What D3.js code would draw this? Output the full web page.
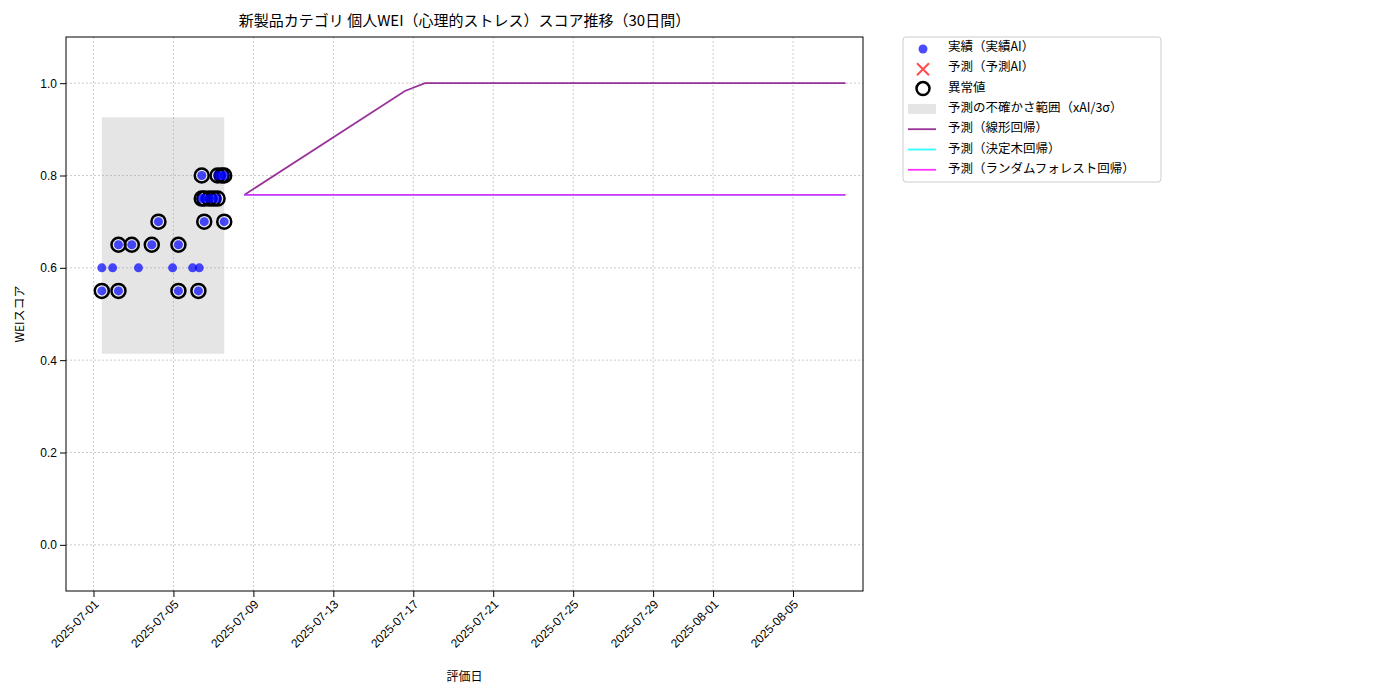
<!DOCTYPE html>
<html><head><meta charset="utf-8">
<script src="https://cdn.jsdelivr.net/npm/d3@7"></script>
<style>body{margin:0;background:#fff;font-family:"Noto Sans CJK JP","Noto Sans",sans-serif}</style>
</head><body><svg id="c" width="1400" height="700"></svg>
<script>
// actual scores (date, value, anomaly?)
const actualDates = ["2025-07-01T10","2025-07-01T10","2025-07-01T23","2025-07-02T06","2025-07-02T06","2025-07-02T22","2025-07-03T06","2025-07-03T22","2025-07-04T06","2025-07-04T23","2025-07-05T06","2025-07-05T06","2025-07-05T23","2025-07-06T06","2025-07-06T07","2025-07-06T10","2025-07-06T10","2025-07-06T13","2025-07-06T13","2025-07-06T19","2025-07-07T00","2025-07-07T05","2025-07-07T05","2025-07-07T10","2025-07-07T13","2025-07-07T13"];
const actualValues = [0.60,0.55,0.60,0.65,0.55,0.65,0.60,0.65,0.70,0.60,0.65,0.55,0.60,0.55,0.60,0.80,0.75,0.70,0.75,0.75,0.75,0.80,0.75,0.80,0.80,0.70];
const anomaly = [0,1,0,1,1,1,0,1,1,0,1,1,0,1,0,1,1,1,1,1,1,1,1,1,1,1];
// uncertainty band
const bandDates = ["2025-07-01T10","2025-07-07T13"];
const bandRange = [0.414,0.926];
// forecasts
const linDates = ["2025-07-08T13","2025-07-16T14","2025-07-17T14","2025-08-07T15"];
const linValues = [0.758,0.983,1.0,1.0];
const treeDates = ["2025-07-08T13","2025-08-07T15"];
const treeValues = [0.758,0.758];
const rfDates = ["2025-07-08T13","2025-08-07T15"];
const rfValues = [0.758,0.758];
const tickDates = ["2025-07-01","2025-07-05","2025-07-09","2025-07-13","2025-07-17","2025-07-21","2025-07-25","2025-07-29","2025-08-01","2025-08-05"];

const P = s => new Date(s.length > 10 ? s + ":00:00" : s + "T00:00:00");
const svg = d3.select("#c");
const m = {l:66, r:863, t:37, b:591};
const x = d3.scaleTime().domain([P("2025-06-29T15"), P("2025-08-08T12")]).range([m.l, m.r]);
const y = d3.scaleLinear().domain([-0.1, 1.1]).range([m.b, m.t]);

// grid
const g = svg.append("g");
g.selectAll(".gx").data(tickDates).join("line").attr("x1", d => x(P(d))).attr("x2", d => x(P(d)))
  .attr("y1", m.t).attr("y2", m.b).attr("stroke", "#ccc").attr("stroke-dasharray", "2,2");
g.selectAll(".gy").data(d3.range(0, 1.01, 0.2)).join("line").attr("y1", d => y(d)).attr("y2", d => y(d))
  .attr("x1", m.l).attr("x2", m.r).attr("stroke", "#ccc").attr("stroke-dasharray", "2,2");

// band
svg.append("rect").attr("x", x(P(bandDates[0]))).attr("width", x(P(bandDates[1])) - x(P(bandDates[0])))
  .attr("y", y(bandRange[1])).attr("height", y(bandRange[0]) - y(bandRange[1]))
  .attr("fill", "#999").attr("opacity", 0.25);

// lines
const line = (ds, vs, col, op) => svg.append("path").datum(ds.map((d, i) => [P(d), vs[i]]))
  .attr("d", d3.line().x(d => x(d[0])).y(d => y(d[1]))).attr("fill", "none")
  .attr("stroke", col).attr("stroke-width", 1.8).attr("opacity", op);
line(linDates, linValues, "purple", 0.8);
line(treeDates, treeValues, "cyan", 0.8);
line(rfDates, rfValues, "magenta", 0.8);

// points
const pts = actualDates.map((d, i) => ({d: P(d), v: actualValues[i], a: anomaly[i]}));
svg.selectAll(".an").data(pts.filter(p => p.a)).join("circle").attr("cx", p => x(p.d)).attr("cy", p => y(p.v))
  .attr("r", 7).attr("fill", "none").attr("stroke", "#000").attr("stroke-width", 2.5);
svg.selectAll(".pt").data(pts).join("circle").attr("cx", p => x(p.d)).attr("cy", p => y(p.v))
  .attr("r", 4.5).attr("fill", "blue").attr("opacity", 0.7);

// axes
svg.append("rect").attr("x", m.l).attr("y", m.t).attr("width", m.r - m.l).attr("height", m.b - m.t)
  .attr("fill", "none").attr("stroke", "#000");
const xa = svg.append("g").attr("transform", `translate(0,${m.b})`)
  .call(d3.axisBottom(x).tickValues(tickDates.map(P)).tickFormat(d3.timeFormat("%Y-%m-%d")).tickSizeOuter(0));
xa.selectAll("text").attr("transform", "rotate(-45)").attr("text-anchor", "end").attr("dx", "-0.5em").attr("dy", "0.4em");
const ya = svg.append("g").attr("transform", `translate(${m.l},0)`)
  .call(d3.axisLeft(y).tickValues(d3.range(0, 1.01, 0.2)).tickFormat(d3.format(".1f")).tickSizeOuter(0));
svg.selectAll(".tick text").attr("font-size", 12).attr("fill", "#000").attr("font-family", "inherit");
svg.selectAll(".domain").remove();

svg.append("text").attr("x", (m.l + m.r) / 2).attr("y", 26).attr("text-anchor", "middle").attr("font-size", 15)
  .text("新製品カテゴリ 個人WEI（心理的ストレス）スコア推移（30日間）");
svg.append("text").attr("x", (m.l + m.r) / 2).attr("y", 681).attr("text-anchor", "middle").attr("font-size", 12).text("評価日");
svg.append("text").attr("transform", `translate(24,${(m.t + m.b) / 2}) rotate(-90)`).attr("text-anchor", "middle").attr("font-size", 12).text("WEIスコア");

// legend
const L = svg.append("g").attr("transform", "translate(903,37)");
L.append("rect").attr("width", 258).attr("height", 145).attr("rx", 3).attr("fill", "#fff").attr("stroke", "#ccc");
const items = ["実績（実績AI）","予測（予測AI）","異常値","予測の不確かさ範囲（xAI/3σ）","予測（線形回帰）","予測（決定木回帰）","予測（ランダムフォレスト回帰）"];
items.forEach((t, i) => {
  const yy = 10 + i * 20.3;
  L.append("text").attr("x", 45).attr("y", yy + 4).attr("font-size", 12.5).text(t);
  if (i == 0) L.append("circle").attr("cx", 20).attr("cy", yy + 2).attr("r", 4.5).attr("fill", "blue").attr("opacity", 0.7);
  if (i == 1) L.append("path").attr("d", `M14,${yy - 4}L26,${yy + 8}M26,${yy - 4}L14,${yy + 8}`).attr("stroke", "red").attr("stroke-width", 2).attr("opacity", 0.7);
  if (i == 2) L.append("circle").attr("cx", 20).attr("cy", yy + 1).attr("r", 6.5).attr("fill", "none").attr("stroke", "#000").attr("stroke-width", 2.5);
  if (i == 3) L.append("rect").attr("x", 5).attr("y", yy - 4).attr("width", 28).attr("height", 10).attr("fill", "#999").attr("opacity", 0.25);
  if (i >= 4) L.append("line").attr("x1", 5).attr("x2", 33).attr("y1", yy + 1).attr("y2", yy + 1)
    .attr("stroke", ["purple","cyan","magenta"][i - 4]).attr("stroke-width", 1.8).attr("opacity", 0.8);
});
</script></body></html>
